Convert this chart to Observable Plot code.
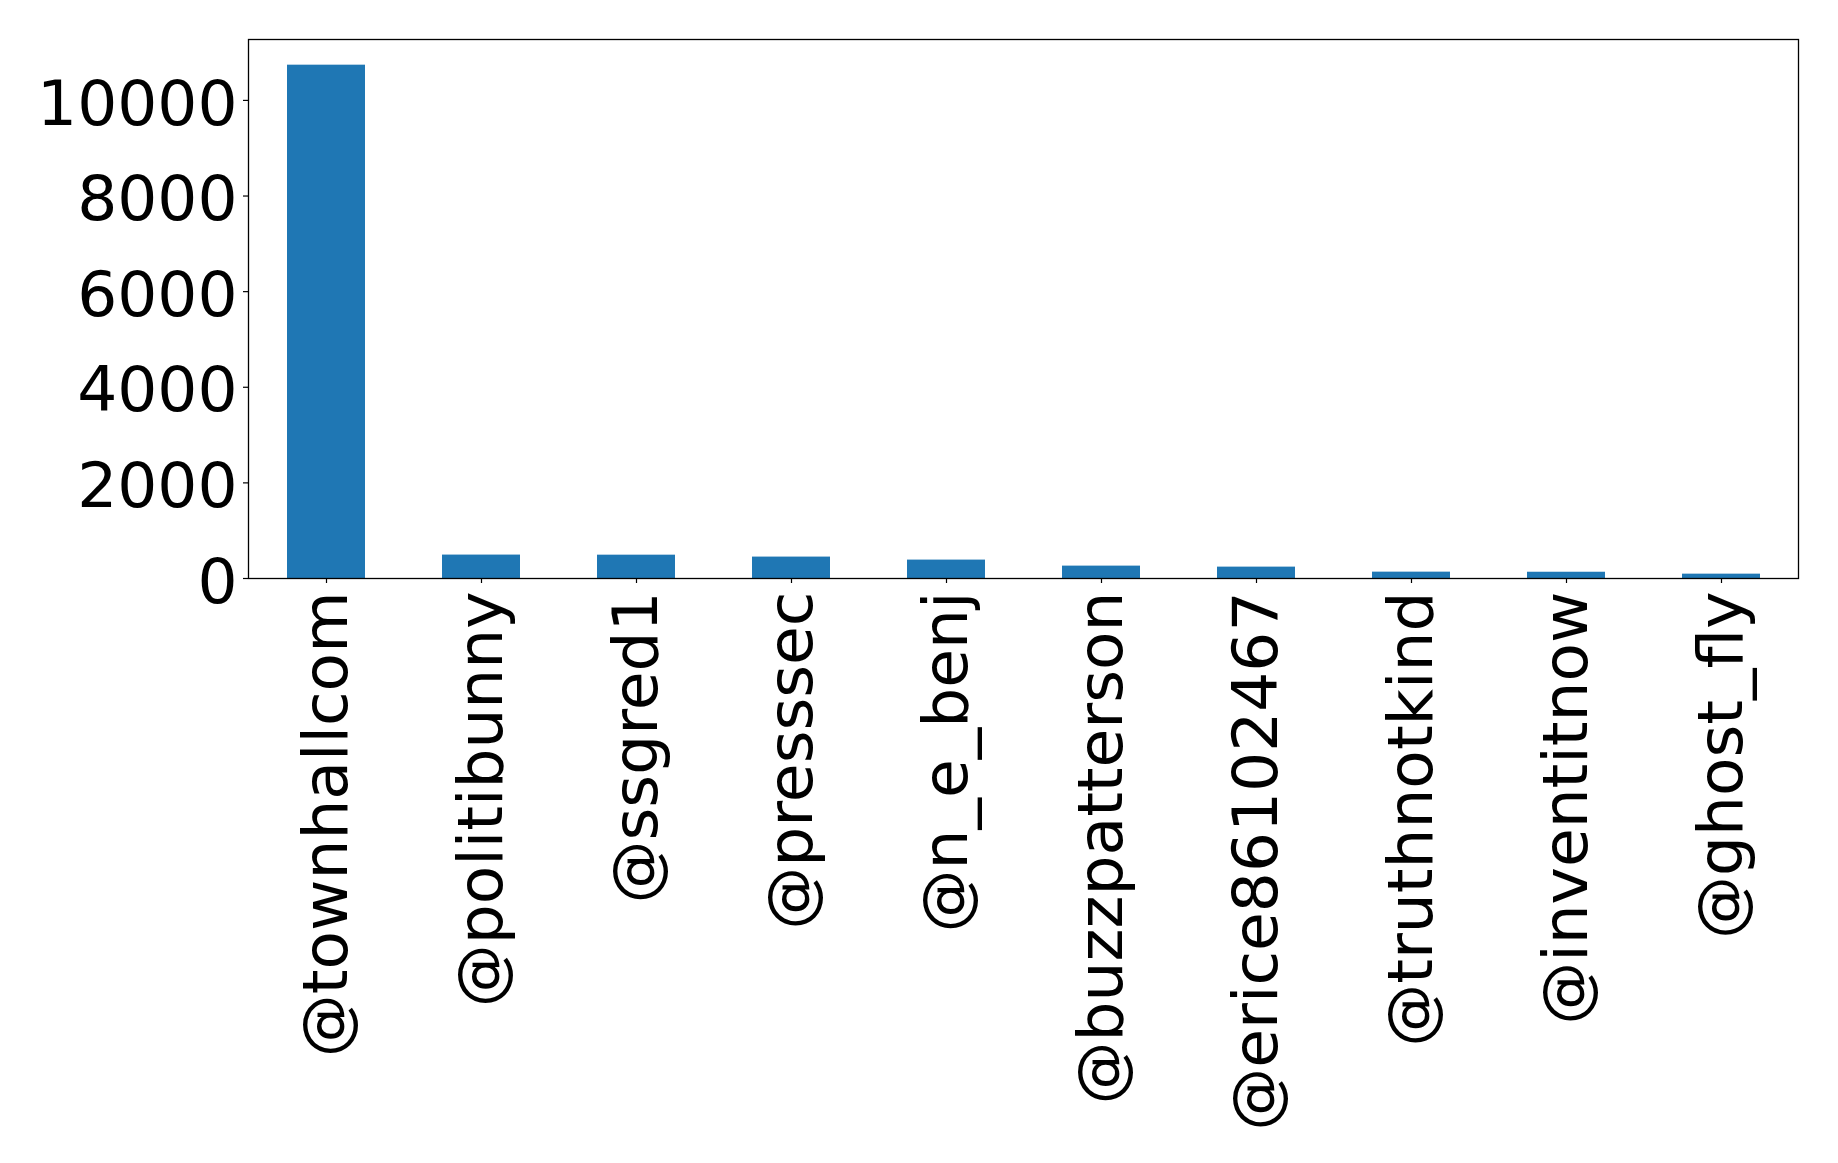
<!DOCTYPE html>
<html>
<head>
<meta charset="utf-8">
<script src="https://cdn.jsdelivr.net/npm/d3@7"></script>
<script src="https://cdn.jsdelivr.net/npm/@observablehq/plot@0.6"></script>
<style>
  html, body { margin: 0; padding: 0; background: #fff; }
  #chart { width: 1838px; height: 1163px; }
</style>
</head>
<body>
<div id="chart"></div>
<script>
const accounts = ["@townhallcom", "@politibunny", "@ssgred1", "@presssec", "@n_e_benj", "@buzzpatterson", "@erice86102467", "@truthnotkind", "@inventitnow", "@ghost_fly"];
const counts = [10737, 490, 488, 448, 385, 259, 238, 133, 131, 91];
const yTicks = [0, 2000, 4000, 6000, 8000, 10000];

const data = accounts.map((a, i) => ({account: a, count: counts[i]}));

const chart = Plot.plot({
  width: 1838,
  height: 1163,
  marginLeft: 248,
  marginRight: 40,
  marginTop: 39,
  marginBottom: 585,
  style: {fontFamily: "DejaVu Sans", background: "white", color: "black"},
  x: {domain: accounts, paddingInner: 0.5, paddingOuter: 0.25, align: 0.5},
  y: {domain: [0, 11274]},
  marks: [
    Plot.barY(data, {x: "account", y: "count", fill: "#1f77b4"}),
    Plot.axisY({ticks: yTicks, tickSize: 5, text: null, label: null, strokeWidth: 1.2}),
    Plot.axisY({ticks: yTicks, tickSize: 0, tickPadding: 11, fontSize: 63, label: null, dy: 4, tickFormat: d => String(d), fill: "black"}),
    Plot.axisX({tickSize: 5, text: null, label: null, strokeWidth: 1.2}),
    Plot.axisX({tickSize: 0, tickPadding: 13, tickRotate: -90, fontSize: 63, label: null, fill: "black"}),
    Plot.frame({stroke: "black", strokeWidth: 1.3})
  ]
});
document.getElementById("chart").appendChild(chart);
</script>
</body>
</html>
